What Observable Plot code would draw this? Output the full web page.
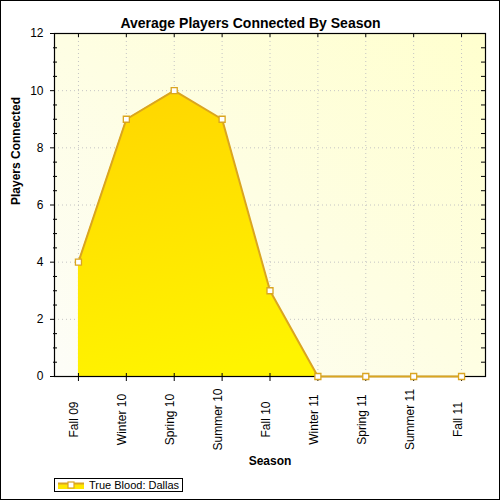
<!DOCTYPE html>
<html>
<head>
<meta charset="utf-8">
<script src="https://cdn.jsdelivr.net/npm/d3@7"></script>
<script src="https://cdn.jsdelivr.net/npm/@observablehq/plot@0.6"></script>
<style>
  html, body { margin: 0; padding: 0; background: white; }
  #wrap { position: relative; width: 500px; height: 500px; overflow: hidden; font-family: "Liberation Sans", Arial, sans-serif; }
  #border { position: absolute; left: 0; top: 0; width: 500px; height: 500px; box-sizing: border-box; border: 1.5px solid #000; pointer-events: none; }
  #legend { position: absolute; left: 54px; top: 478px; width: 129px; height: 14px; box-sizing: border-box; border: 1px solid #000; background: #fff; font-size: 11px; color: #000; }
  #legend svg { position: absolute; left: 3px; top: 1px; }
  #legend span { position: absolute; left: 34px; top: 0px; line-height: 12px; white-space: nowrap; }
</style>
</head>
<body>
<div id="wrap">
  <div id="chart"></div>
  <div id="legend"></div>
  <div id="border"></div>
</div>
<script>
const chartTitle = "Average Players Connected By Season";
const seasons = ["Fall 09", "Winter 10", "Spring 10", "Summer 10", "Fall 10", "Winter 11", "Spring 11", "Summer 11", "Fall 11"];
const players = [4, 9, 10, 9, 3, 0, 0, 0, 0];
const yTicks = [0, 2, 4, 6, 8, 10, 12];
const yGrid = [2, 4, 6, 8, 10];
const yHalf = d3.range(0, 12.01, 0.5);
const yMinor = yHalf.filter(v => v % 2 !== 0);
const seriesName = "True Blood: Dallas";
const xLabel = "Season";
const yLabel = "Players Connected";

const data = seasons.map((s, i) => ({season: s, value: players[i]}));

const gold = "#DAA520";
const font = "Liberation Sans, Arial, sans-serif";

const chart = Plot.plot({
  width: 500,
  height: 500,
  marginLeft: 54,
  marginRight: 15,
  marginTop: 33,
  marginBottom: 124,
  style: {fontFamily: font, fontSize: "12px", background: "transparent", color: "#000"},
  x: {type: "point", domain: seasons, padding: 0.5, round: false, axis: null},
  y: {domain: [0, 12], axis: null},
  marks: [
    Plot.frame({fill: "url(#bgGrad)", stroke: "none"}),
    Plot.ruleY(yGrid, {y: d => d, stroke: "#c4c4c4", strokeDasharray: "1,3"}),
    Plot.ruleX(seasons, {x: d => d, stroke: "#c4c4c4", strokeDasharray: "1,3"}),
    Plot.areaY(data, {x: "season", y: "value", fill: "url(#areaGrad)"}),
    Plot.frame({stroke: "#000", strokeWidth: 1.2}),
    Plot.lineY(data, {x: "season", y: "value", stroke: gold, strokeWidth: 2}),
    // left axis ticks
    Plot.tickY(yTicks, {y: d => d, insetRight: 427, dx: -4, stroke: "#000"}),
    Plot.tickY(yMinor, {y: d => d, insetRight: 427, dx: -1, stroke: "#000"}),
    // right axis ticks
    Plot.tickY(yHalf, {y: d => d, insetLeft: 427, stroke: "#000"}),
    // top ticks
    Plot.tickX(seasons, {x: d => d, insetBottom: 339, stroke: "#000"}),
    // bottom ticks
    Plot.tickX(seasons, {x: d => d, insetTop: 335, dy: 5, stroke: "#000"}),
    Plot.dot(data, {x: "season", y: "value", symbol: "square", r: 3.4, fill: "#fff", stroke: gold, strokeWidth: 1.3}),
    // tick labels
    Plot.text(yTicks, {y: d => d, text: d => String(d), frameAnchor: "left", dx: -11, textAnchor: "end", fontSize: 12}),
    Plot.text(seasons, {x: d => d, text: d => d, frameAnchor: "bottom", dy: 43, rotate: -90, textAnchor: "middle", fontSize: 12}),
    // axis labels
    Plot.text([yLabel], {frameAnchor: "left", dx: -38, rotate: -90, fontWeight: "bold", fontSize: 12}),
    Plot.text([xLabel], {frameAnchor: "bottom", dy: 88, fontWeight: "bold", fontSize: 12}),
    // title
    Plot.text([chartTitle], {frameAnchor: "top", dy: -15, dx: -19.5, fontWeight: "bold", fontSize: 14})
  ]
});

const ns = "http://www.w3.org/2000/svg";
const defs = document.createElementNS(ns, "defs");
defs.innerHTML = `
  <linearGradient id="bgGrad" x1="0" y1="1" x2="1" y2="0">
    <stop offset="0" stop-color="#FDFDF8"/>
    <stop offset="1" stop-color="#FFFFCE"/>
  </linearGradient>
  <linearGradient id="areaGrad" x1="0" y1="0" x2="0.3" y2="1">
    <stop offset="0" stop-color="#FFD500"/>
    <stop offset="1" stop-color="#FFF400"/>
  </linearGradient>`;
chart.insertBefore(defs, chart.firstChild);
document.getElementById("chart").appendChild(chart);

// legend
const legend = document.getElementById("legend");
legend.innerHTML = `
  <svg width="26" height="10" viewBox="0 0 26 10">
    <rect x="0" y="3" width="26" height="6" fill="#FFE800"/>
    <line x1="0" x2="26" y1="3.5" y2="3.5" stroke="${gold}" stroke-width="2"/>
    <rect x="10" y="2" width="6" height="6" fill="#fff" stroke="${gold}" stroke-width="1.2"/>
  </svg>
  <span>${seriesName}</span>`;
</script>
</body>
</html>
